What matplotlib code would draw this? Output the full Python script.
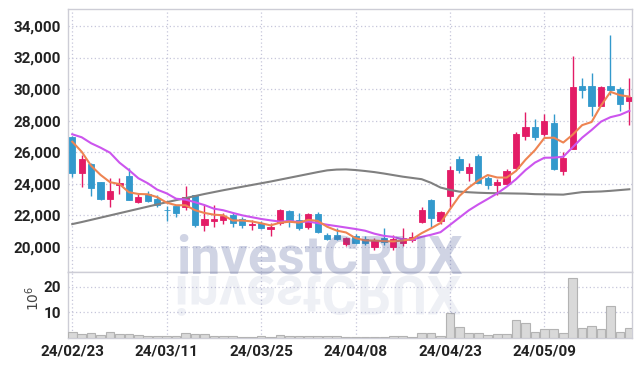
import matplotlib
matplotlib.use('Agg')
import matplotlib.pyplot as plt
import numpy as np
import pandas as pd
from matplotlib.textpath import TextPath
from matplotlib.patches import PathPatch
from matplotlib.font_manager import FontProperties
from matplotlib.transforms import Affine2D
from matplotlib.ticker import FuncFormatter, FixedLocator

# ---------------- data ----------------
holidays = ['2024-03-01', '2024-04-10', '2024-05-01', '2024-05-06', '2024-05-15']
dates = pd.bdate_range('2024-02-23', periods=60, freq='C', holidays=holidays)
date_labels = list(dates.strftime('%y/%m/%d'))
tick_labels = ['24/02/23', '24/03/11', '24/03/25', '24/04/08', '24/04/23', '24/05/09']

opens = [26950, 24700, 25250, 24080, 23000, 23900, 24480, 22820, 23340, 23000,
         22330, 22600, 22500, 23280, 21360, 21630, 21690, 22000, 21750, 21360,
         21480, 21100, 21480, 22280, 21690, 21230, 22070, 20740, 20740, 20150,
         20700, 20490, 19960, 20530, 20000, 20250, 20420, 21580, 22960, 21650,
         23210, 25560, 24650, 25770, 24340, 23910, 23960, 25010, 27020, 27570,
         27130, 27830, 24820, 26220, 30190, 30190, 28930, 30190, 30000, 29260]
highs = [27000, 25800, 25300, 24100, 24330, 24330, 24970, 23350, 23530, 23260,
         22580, 22620, 23850, 23300, 22620, 22620, 22150, 22150, 21860, 21690,
         21650, 21480, 22370, 22330, 22120, 22150, 22220, 20850, 21160, 20630,
         20800, 20680, 20530, 21160, 20740, 21160, 20950, 22540, 23000, 22280,
         25120, 25770, 25330, 25880, 24480, 24270, 24930, 27290, 28560, 28080,
         28400, 28400, 26020, 32120, 30680, 31000, 30210, 33430, 30150, 30720]
lows = [24450, 23800, 23200, 22950, 22530, 23340, 22950, 22800, 22850, 22500,
        21630, 21860, 22330, 21230, 21010, 21270, 21440, 21270, 21160, 21060,
        21150, 20680, 21370, 21270, 21060, 21100, 20850, 20420, 20420, 20040,
        20170, 20100, 19790, 20100, 19790, 20040, 20310, 21480, 21270, 21440,
        22540, 24650, 24190, 24050, 23660, 23280, 23950, 24930, 26770, 26770,
        27020, 24840, 24550, 26200, 29450, 28310, 28920, 29620, 28610, 27720]
closes = [24650, 25550, 23700, 23020, 23530, 24050, 22960, 23150, 22920, 22620,
          22300, 22150, 23130, 21370, 21740, 21750, 21950, 21480, 21370, 21460,
          21160, 21270, 22330, 21690, 21160, 22050, 20930, 20470, 20490, 20550,
          20250, 20210, 20420, 20310, 20470, 20530, 20630, 22330, 21840, 22180,
          24860, 24860, 25030, 24060, 23910, 24080, 24820, 27150, 27610, 26940,
          27950, 24930, 25600, 30110, 29960, 28940, 30150, 29960, 29050, 29510]
ma5 = [26660, 26020, 25130, 24550, 24090, 23970, 23452, 23342, 23322, 23140,
       22790, 22628, 22624, 22314, 22138, 22028, 21988, 21658, 21658, 21602,
       21484, 21348, 21518, 21582, 21522, 21700, 21632, 21260, 21020, 20898,
       20538, 20394, 20384, 20348, 20332, 20388, 20472, 20854, 21160, 21502,
       22368, 23214, 23754, 24198, 24544, 24388, 24380, 24804, 25514, 26120,
       26894, 26916, 26606, 27106, 27710, 27908, 28952, 29824, 29612, 29522]
ma10 = [27130, 26940, 26560, 26280, 25960, 25330, 24860, 24340, 24020, 23615,
        23380, 23040, 22983, 22818, 22639, 22409, 22308, 22141, 21986, 21870,
        21756, 21668, 21588, 21620, 21562, 21592, 21490, 21389, 21301, 21210,
        21119, 21013, 20822, 20684, 20615, 20463, 20433, 20619, 20754, 20917,
        21378, 21843, 22304, 22679, 23023, 23378, 23797, 24279, 24856, 25332,
        25641, 25648, 25705, 26310, 26915, 27401, 27934, 28215, 28359, 28616]
ma60 = [21430, 21560, 21700, 21840, 21980, 22120, 22260, 22400, 22540, 22680,
        22820, 22950, 23080, 23210, 23340, 23460, 23580, 23690, 23800, 23910,
        24020, 24130, 24250, 24370, 24490, 24610, 24730, 24840, 24890, 24900,
        24860, 24800, 24730, 24640, 24540, 24440, 24360, 24280, 24050, 23750,
        23600, 23490, 23450, 23420, 23400, 23390, 23380, 23370, 23360, 23330,
        23320, 23310, 23300, 23380, 23460, 23480, 23500, 23540, 23590, 23640]
volume = [2.1, 1.5, 1.7, 0.9, 2.1, 1.4, 1.4, 1.0, 0.6, 0.6,
          0.6, 0.6, 1.8, 1.4, 1.4, 0.6, 0.5, 0.5, 0.4, 0.4,
          0.5, 0.4, 0.9, 0.6, 0.5, 0.5, 0.5, 0.5, 0.5, 0.4,
          0.2, 0.2, 0.4, 0.3, 0.5, 0.8, 0.4, 2.0, 2.0, 0.5,
          9.6, 4.1, 2.0, 2.0, 0.9, 1.3, 1.3, 6.8, 5.6, 2.4,
          3.3, 3.3, 1.7, 23.3, 3.7, 4.6, 3.3, 12.4, 2.1, 3.7]

# ---------------- style ----------------
UP = '#e31c66'
DOWN = '#3399cc'
GRID = '#c6c6da'
SPINE = '#cdcdd6'
TXT = '#222222'
FONT = ['Roboto', 'DejaVu Sans']

W, H = 642, 366
fig = plt.figure(figsize=(W / 100, H / 100), dpi=100)
L, R = 68 / W, 632 / W
ax = fig.add_axes([L, 1 - 272 / H, R - L, (272 - 9) / H])
axv = fig.add_axes([L, 1 - 337.7 / H, R - L, (337.7 - 272) / H], sharex=ax)

x = np.arange(len(closes))
o = np.array(opens); c = np.array(closes)
cols = [UP if cc >= oo else DOWN for oo, cc in zip(o, c)]

ax.vlines(x, lows, highs, colors=cols, lw=1.0, zorder=3)
ax.bar(x, np.abs(c - o), bottom=np.minimum(o, c), width=0.66, color=cols,
       edgecolor=cols, linewidth=0.6, zorder=4)
ax.plot(x, ma60, color='#808080', lw=1.5, zorder=5)
ax.plot(x, ma10, color='#cc55ee', lw=1.5, zorder=5)
ax.plot(x, ma5, color='#ee8452', lw=1.5, zorder=5)

axv.bar(x, volume, width=0.92, color='#d9d9d9', edgecolor='#b3b3b3', linewidth=0.8, zorder=3)

tick_pos = [date_labels.index(t) for t in tick_labels]

ax.set_xlim(-0.45, 59.28)
ax.set_ylim(18390, 35080)
ax.yaxis.set_major_locator(FixedLocator(list(range(20000, 34001, 2000))))
ax.yaxis.set_major_formatter(FuncFormatter(lambda v, p: f'{int(v):,}'))
axv.set_ylim(0, 25.8)
axv.yaxis.set_major_locator(FixedLocator([10, 20]))
axv.set_xticks(tick_pos)
axv.set_xticklabels(tick_labels)
ax.tick_params(axis='x', labelbottom=False)

for a in (ax, axv):
    a.grid(True, color=GRID, linestyle=(0, (1, 2)), linewidth=0.9)
    a.set_axisbelow(True)
    a.tick_params(length=0, colors=TXT, labelsize=11, pad=5)
    for lab in a.get_xticklabels() + a.get_yticklabels():
        lab.set_family(FONT)
        lab.set_fontweight('bold')
    for s in a.spines.values():
        s.set_color(SPINE)
        s.set_linewidth(1.0)

fig.text(33 / W, 1 - 298 / H, r'$10^6$', rotation=90, ha='center', va='center',
         fontsize=10, color='#444444')

# watermark
wm_fp = FontProperties(family=FONT, weight='bold')
wm_size = 54  # px
fig.text(319 / W, 1 - 273 / H, 'investCRUX', ha='center', va='baseline',
         fontproperties=wm_fp, fontsize=wm_size * 72 / 100, color='#4a5a9a',
         alpha=0.26, zorder=10)
tp = TextPath((0, 0), 'investCRUX', size=wm_size, prop=wm_fp)
bb = tp.get_extents()
tr = Affine2D().translate(-(bb.x0 + bb.x1) / 2, 0).scale(1, -1).translate(319, H - 276)
patch = PathPatch(tr.transform_path(tp), facecolor='#4a5a9a', edgecolor='none',
                  alpha=0.09, transform=None, zorder=10)
fig.add_artist(patch)

fig.savefig('out.png', dpi=100)
